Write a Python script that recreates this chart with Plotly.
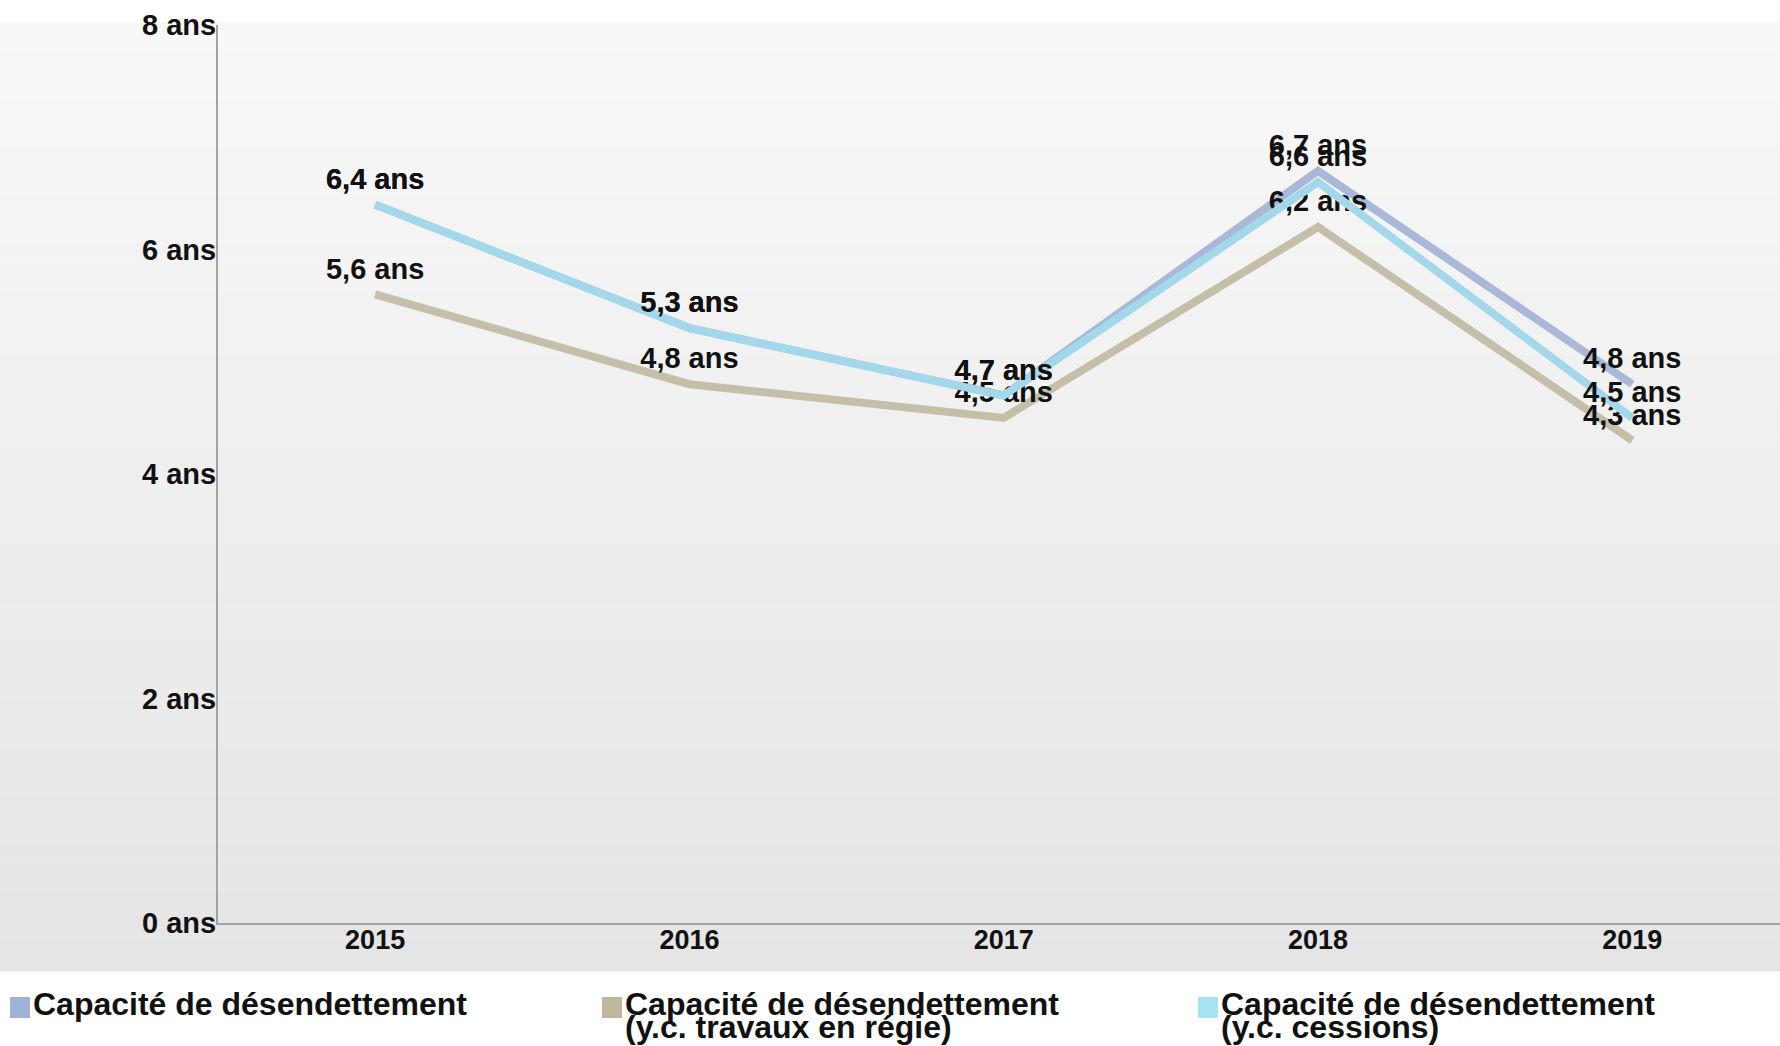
import plotly.graph_objects as go

# Debt-payback capacity (years) by year
years = ["2015", "2016", "2017", "2018", "2019"]
capacite = [6.4, 5.3, 4.7, 6.7, 4.8]
capacite_regie = [5.6, 4.8, 4.5, 6.2, 4.3]
capacite_cessions = [6.4, 5.3, 4.7, 6.6, 4.5]

series_names = [
    "Capacité de désendettement",
    "Capacité de désendettement<br>(y.c. travaux en régie)",
    "Capacité de désendettement<br>(y.c. cessions)",
]
line_colors = ["#a9b8d8", "#c5bfaa", "#a2d8ea"]
legend_colors = ["#9fb3d9", "#c0b89e", "#a6e3f0"]

y_ticks = [0, 2, 4, 6, 8]
y_tick_labels = [f"{v} ans" for v in y_ticks]

W, H = 1780, 1046
ML, MR, MT, MB = 218, 0, 25, 123
PW, PH = W - ML - MR, H - MT - MB


def px_to_xp(px):
    return (px - ML) / PW


def py_to_yp(py):
    return (H - MB - py) / PH


def fmt(v):
    return f"{v:.1f}".replace(".", ",") + " ans"


fig = go.Figure()

for vals, color in zip([capacite, capacite_regie, capacite_cessions], line_colors):
    fig.add_trace(go.Scatter(
        x=years, y=vals,
        mode="lines+markers+text",
        line=dict(color=color, width=8),
        marker=dict(size=12, opacity=0, color=color),
        text=[fmt(v) for v in vals],
        textposition="top center",
        textfont=dict(family="Liberation Sans, Arial, sans-serif", size=29, color="#111111", weight="bold"),
        showlegend=False,
        hoverinfo="skip",
        cliponaxis=False,
    ))

shapes = []
# vertical grey gradient behind the chart
top_px, bot_px = 22, 971
n = 60
c_top, c_bot = 248, 229
for i in range(n):
    y0 = top_px + (bot_px - top_px) * i / n
    y1 = top_px + (bot_px - top_px) * (i + 1) / n + 0.5
    c = round(c_top + (c_bot - c_top) * (i + 0.5) / n)
    shapes.append(dict(
        type="rect", xref="paper", yref="paper", layer="below",
        x0=px_to_xp(0), x1=px_to_xp(W), y0=py_to_yp(y1), y1=py_to_yp(y0),
        fillcolor=f"rgb({c},{c},{c})", line=dict(width=0),
    ))

# legend: coloured squares and wrapped labels
legend_x = [10, 602, 1198]
annotations = []
for name, color, lx in zip(series_names, legend_colors, legend_x):
    shapes.append(dict(
        type="rect", xref="paper", yref="paper",
        x0=px_to_xp(lx), x1=px_to_xp(lx + 20),
        y0=py_to_yp(1018), y1=py_to_yp(997),
        fillcolor=color, line=dict(width=0),
    ))
    for k, part in enumerate(name.split("<br>")):
        annotations.append(dict(
            xref="paper", yref="paper",
            x=px_to_xp(lx + 21), y=py_to_yp(1004 + 23 * k),
            xanchor="left", yanchor="middle",
            text=part, showarrow=False,
            font=dict(family="Liberation Sans, Arial, sans-serif", size=32, color="#111111", weight="bold"),
        ))

fig.update_layout(
    width=W, height=H,
    margin=dict(l=ML, r=MR, t=MT, b=MB),
    paper_bgcolor="white",
    plot_bgcolor="rgba(0,0,0,0)",
    shapes=shapes,
    annotations=annotations,
    xaxis=dict(
        type="category",
        range=[-0.5, 4.47],
        showgrid=False, zeroline=False,
        showline=True, linecolor="#a3a3a3", linewidth=2,
        ticks="", ticklabelstandoff=-8,
        tickfont=dict(family="Liberation Sans, Arial, sans-serif", size=27, color="#111111", weight="bold"),
    ),
    yaxis=dict(
        range=[0, 8],
        tickvals=y_ticks, ticktext=y_tick_labels,
        showgrid=False, zeroline=False,
        showline=True, linecolor="#a3a3a3", linewidth=2,
        ticks="", ticklabelstandoff=-6,
        tickfont=dict(family="Liberation Sans, Arial, sans-serif", size=29, color="#111111", weight="bold"),
    ),
    showlegend=False,
)

fig.write_html("out.html")
